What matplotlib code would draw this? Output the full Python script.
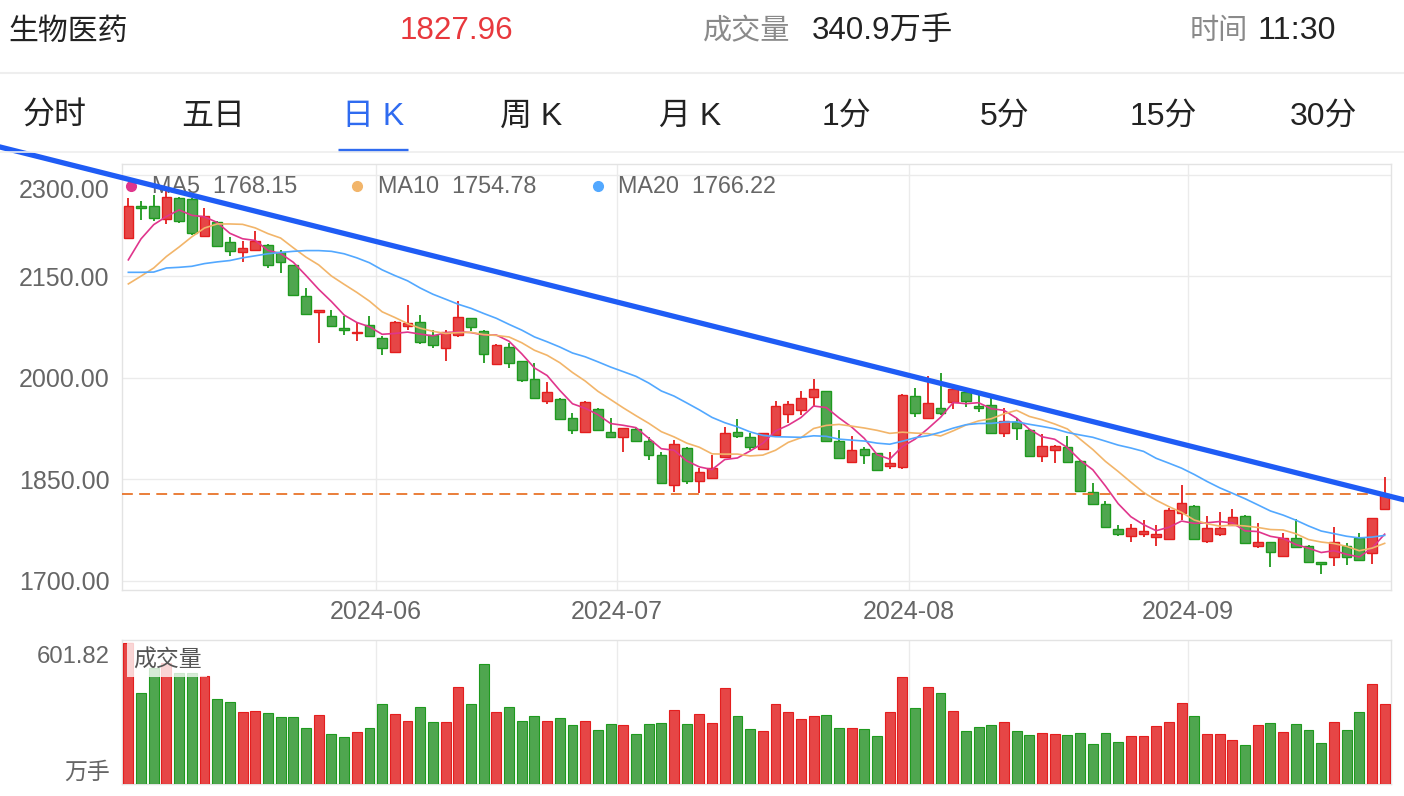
import numpy as np
import pandas as pd
import matplotlib
matplotlib.use('Agg')
import matplotlib.pyplot as plt
from matplotlib.transforms import ScaledTranslation
from matplotlib.lines import Line2D

plt.rcParams['font.family'] = ['Liberation Sans', 'Noto Sans CJK SC', 'DejaVu Sans']

# ---------------- data ----------------
index_name = "生物医药"
last_price_text = "1827.96"
volume_text = "340.9万手"
time_text = "11:30"
tabs = ["分时", "五日", "日 K", "周 K", "月 K", "1分", "5分", "15分", "30分"]
active_tab = "日 K"

holidays = pd.to_datetime(['2024-06-10', '2024-09-16', '2024-09-17'])
dates = pd.bdate_range('2024-05-06', '2024-09-25')
dates = dates[~dates.isin(holidays)]

open_ = [2206.4, 2253, 2254, 2234.5, 2265.5, 2264, 2208.8, 2229.5, 2200, 2185,
         2188, 2196.5, 2185, 2167, 2120, 2096.5, 2091.6, 2073, 2066.2, 2078,
         2058.6, 2038, 2077, 2082, 2062.5, 2044, 2063.6, 2088, 2069.4, 2020.2,
         2046, 2024, 1998.5, 1966, 1968.5, 1940.4, 1919.3, 1954, 1920.6, 1913,
         1924, 1906, 1886, 1842, 1896, 1847, 1851.6, 1883.6, 1920.6, 1911.8,
         1894.8, 1915.7, 1946.8, 1952.6, 1970.9, 1979.8, 1906, 1875, 1894.6, 1888.6,
         1870, 1868, 1972.4, 1941, 1955, 1963.6, 1979, 1958.6, 1960, 1919,
         1935.4, 1923, 1885, 1893.5, 1897.6, 1877.7, 1831, 1814, 1776.4, 1767,
         1769.4, 1764.5, 1762, 1801, 1811, 1759, 1769.4, 1782.7, 1796, 1752,
         1758, 1737.6, 1764, 1752, 1728.6, 1735, 1752, 1763, 1742, 1806.4]
close = [2254, 2250, 2236, 2266.5, 2232, 2214, 2239.4, 2194, 2186.7, 2191.6,
         2201.4, 2166, 2170.6, 2122.6, 2094, 2099.5, 2076, 2071, 2067.7, 2062,
         2044, 2082.3, 2081, 2053, 2048.7, 2067.5, 2089.7, 2074.3, 2035, 2048.7,
         2021.8, 1997, 1970, 1979, 1939, 1923, 1964, 1923, 1913, 1926,
         1906, 1886, 1845, 1902.4, 1847, 1861.5, 1866.5, 1919, 1914, 1898.5,
         1918.4, 1957.6, 1961.5, 1970, 1983.7, 1907.3, 1881.5, 1893.6, 1886, 1864,
         1874, 1975, 1948, 1962.6, 1948, 1983.7, 1966.4, 1955.2, 1918, 1936.4,
         1925.6, 1885, 1899.4, 1899.4, 1875, 1833, 1814, 1779.3, 1769.4, 1778.7,
         1774.3, 1769.4, 1805, 1815, 1761.6, 1778.7, 1778.7, 1795, 1755.6, 1757,
         1743.4, 1763, 1750, 1728.7, 1725, 1757, 1736, 1731, 1793.5, 1827.96]
high = [2265.6, 2260.5, 2270, 2277, 2266.5, 2265.5, 2250.7, 2231, 2208, 2201.4,
        2216, 2197.5, 2189, 2167, 2132.5, 2099.5, 2099.5, 2091.6, 2081, 2091.6,
        2061, 2084, 2107, 2092, 2071, 2071, 2113.8, 2088, 2071, 2049.6,
        2051, 2025, 2021.8, 1993.6, 1970, 1948.6, 1966, 1955, 1941, 1926,
        1926, 1913, 1890, 1908, 1898.5, 1866.5, 1886, 1928, 1939, 1919,
        1919, 1966.4, 1966.4, 1981, 1998, 1980, 1923, 1914, 1898.5, 1889,
        1891, 1976, 1984.7, 2002, 2007, 1985.6, 1980, 1975, 1970, 1955,
        1940, 1924, 1917, 1901, 1914.7, 1878.7, 1844.3, 1817.4, 1782.7, 1784,
        1790, 1782.7, 1807.4, 1842, 1812.3, 1796, 1802.3, 1806, 1797, 1785,
        1758, 1771.5, 1791, 1752.6, 1728.6, 1780, 1755.6, 1770.4, 1793.5, 1854]
low = [2206, 2233, 2232, 2227.5, 2228, 2211, 2208, 2193, 2179, 2170.4,
       2186.6, 2162, 2154.7, 2120, 2093, 2051, 2075, 2063.6, 2054, 2061,
       2033, 2038, 2071, 2050, 2044, 2024, 2060, 2068.4, 2021.8, 2019.7,
       2014, 1994, 1969, 1961.5, 1938, 1917, 1919, 1922, 1911, 1890,
       1905, 1879, 1844, 1831, 1843, 1829.6, 1850, 1882, 1911, 1893.5,
       1894, 1914, 1933, 1945, 1957.6, 1907, 1880.5, 1874, 1873, 1863,
       1865, 1865, 1942, 1940, 1945, 1953.6, 1956.7, 1950, 1917, 1911.8,
       1908, 1884, 1876, 1874, 1874, 1831, 1813, 1778, 1766.5, 1758,
       1765.5, 1752, 1762, 1790, 1760.5, 1756.8, 1767, 1781, 1754.6, 1748,
       1720, 1735, 1748, 1728, 1710, 1722, 1723.6, 1730, 1725, 1806]
volume = [601.82, 388.9, 494, 515.3, 472.7, 472.7, 460, 362, 348, 308,
          311, 301, 286.6, 286.6, 237.2, 293.9, 211.7, 198.9, 222.7, 239.8,
          340.7, 296.9, 268.3, 326.7, 264, 262.8, 414.4, 340.7, 509.8, 305.4,
          329.2, 268.3, 288.3, 268.3, 281.1, 250, 268.3, 228.7, 255.5, 250,
          213, 254.3, 258.5, 313.9, 254.3, 296.9, 259.8, 407.6, 290.9, 234.2,
          224.4, 342, 306.6, 276.8, 290.9, 295.1, 237.2, 238.5, 234.2, 204.4,
          308, 457, 322.4, 411.8, 387.6, 311, 227, 242.8, 251.3, 264,
          227, 207.4, 217.2, 211.7, 207.4, 215.9, 169.1, 215.9, 178.9, 204.4,
          204.4, 247, 264, 345, 289.6, 213, 213, 187.4, 164.8, 251.3,
          259.8, 221.5, 255.5, 230, 174.6, 264, 230, 308, 424.6, 340.9]

# moving-average values before a full window is available
ma5_head = [2174, 2205, 2226, 2238]
ma10_head = [2138.5, 2150, 2162, 2179, 2193, 2208, 2221, 2227, 2227]
ma20_head = [2155.6, 2155.6, 2156, 2162, 2163, 2164.5, 2168.5, 2171, 2173, 2177,
             2180, 2183, 2185, 2186.6, 2187.7, 2187.7, 2186.6, 2183, 2177]
ma_names = ["MA5", "MA10", "MA20"]
ma_last = [1768.15, 1754.78, 1766.22]

# trend line anchors (candle index, price)
trend_idx = [0, 99]
trend_price = [2293.0, 1827.0]

y_ticks = [1700, 1850, 2000, 2150, 2300]

# ---------------- derived ----------------
o = np.array(open_); c = np.array(close); h = np.array(high); l = np.array(low)
v = np.array(volume)
x = np.arange(len(c))
up = c >= o

def moving(n, head):
    s = pd.Series(c).rolling(n).mean().to_numpy()
    s[:n - 1] = head
    return s

ma5 = moving(5, ma5_head)
ma10 = moving(10, ma10_head)
ma20 = moving(20, ma20_head)

months = dates.to_period('M')
month_start = [i for i in range(1, len(dates)) if months[i] != months[i - 1]]
month_labels = [dates[i].strftime('%Y-%m') for i in month_start]

# ---------------- styling ----------------
W, H = 1404, 796
RED_F, RED_E = '#E64646', '#E41E1E'
GRN_F, GRN_E = '#4FA64F', '#1E9A1E'
C_MA = ['#E0358C', '#F2B56A', '#52A8FF']
GRID = '#EBEBEB'
TXT = '#666666'

def fx(px):
    return px / W

def fy(py):
    return 1 - py / H

fig = plt.figure(figsize=(W / 100, H / 100), dpi=100)
fig.patch.set_facecolor('white')

# header
hfs = 21.5
nfs = 22.6
fig.text(fx(8), fy(31), index_name, fontsize=hfs, color='#222222', va='center', ha='left',
         family=['Noto Sans CJK SC'])
fig.text(fx(456), fy(31), last_price_text, fontsize=nfs, color='#E8383D', va='center', ha='center')
fig.text(fx(703), fy(31), "成交量", fontsize=hfs - 0.5, color='#8A8A8A', va='center', ha='left',
         family=['Noto Sans CJK SC'])
fig.text(fx(812), fy(31), volume_text, fontsize=nfs, color='#222222', va='center', ha='left')
fig.text(fx(1190), fy(31), "时间", fontsize=hfs - 0.5, color='#8A8A8A', va='center', ha='left',
         family=['Noto Sans CJK SC'])
fig.text(fx(1258), fy(31), time_text, fontsize=nfs + 0.6, color='#222222', va='center', ha='left')
fig.add_artist(Line2D([0, 1], [fy(73), fy(73)], color='#EEEEEE', lw=1.5))

# tabs
tab_centers = [55, 213, 373, 531, 690, 847, 1005, 1163, 1324]
for t, cx in zip(tabs, tab_centers):
    col = '#2F6BF0' if t == active_tab else '#222222'
    fig.text(fx(cx), fy(117), t, fontsize=23, color=col, va='center', ha='center',
             family=['Liberation Sans', 'Noto Sans CJK SC'])
    if t == active_tab:
        fig.add_artist(Line2D([fx(cx - 35), fx(cx + 35)], [fy(149.5), fy(149.5)],
                              color='#2F6BF0', lw=2.4, solid_capstyle='butt'))
fig.add_artist(Line2D([0, 1], [fy(152), fy(152)], color='#EEEEEE', lw=1.2))

# ---------------- price axes ----------------
ax = fig.add_axes([fx(122), fy(590), fx(1269), 426 / H])
ax.set_xlim(-0.5, len(c) - 0.5)
ax.set_ylim(1686.7, 2315.5)
for s in ax.spines.values():
    s.set_color('#E3E3E3'); s.set_linewidth(1)
ax.set_yticks(y_ticks)
ax.set_yticklabels([f"{t:.2f}" for t in y_ticks])
ax.set_xticks([m - 0.5 for m in month_start])
ax.set_xticklabels(month_labels)
ax.tick_params(length=0, colors=TXT, labelsize=18, pad=9)
ax.tick_params(axis='x', pad=7)
ax.grid(True, color=GRID, lw=1)
ax.set_axisbelow(True)
lab = ax.get_yticklabels()
top_lab = lab[-1]
top_lab.set_transform(top_lab.get_transform() + ScaledTranslation(0, -0.135, fig.dpi_scale_trans))

fill = np.where(up, RED_F, GRN_F)
edge = np.where(up, RED_E, GRN_E)
ax.vlines(x, l, h, colors=edge, lw=1.3, zorder=2)
ax.bar(x, np.maximum(np.abs(c - o), 0.01), bottom=np.minimum(o, c), width=0.76,
       color=fill, edgecolor=edge, linewidth=1.0, zorder=3)

for ma, col in zip([ma5, ma10, ma20], C_MA):
    ax.plot(x, ma, color=col, lw=1.2, zorder=4)

ax.axhline(c[-1], color='#E8742A', lw=1.3, ls=(0, (6, 3.5)), zorder=4)

# trend line extended to figure edges
slope = (trend_price[1] - trend_price[0]) / (trend_idx[1] - trend_idx[0])
tx = np.array([-10.2, 100.6])
ty = trend_price[0] + slope * (tx - trend_idx[0])
ax.plot(tx, ty, color='#1F5CF5', lw=3.8, zorder=6, clip_on=False, solid_capstyle='butt')

# MA legend
leg_dot = [0.0071, 0.185, 0.375]
leg_txt = [0.0236, 0.2017, 0.391]
for name, val, col, dx, tx_ in zip(ma_names, ma_last, C_MA, leg_dot, leg_txt):
    ax.plot([dx], [0.948], marker='o', ms=7, color=col, transform=ax.transAxes,
            clip_on=False, zorder=5)
    ax.text(tx_, 0.948, f"{name}  {val:.2f}", transform=ax.transAxes, fontsize=16.8,
            color=TXT, va='center', ha='left', zorder=5)

# ---------------- volume axes ----------------
axv = fig.add_axes([fx(122), fy(784), fx(1269), 144 / H])
axv.set_xlim(-0.5, len(c) - 0.5)
axv.set_ylim(0, v.max() * 144 / 141.3)
for s in axv.spines.values():
    s.set_color('#E3E3E3'); s.set_linewidth(1)
axv.set_yticks([])
axv.set_xticks([m - 0.5 for m in month_start])
axv.set_xticklabels([])
axv.tick_params(length=0)
axv.grid(True, axis='x', color=GRID, lw=1)
axv.set_axisbelow(True)
axv.bar(x, v, width=0.78, color=fill, edgecolor=edge, linewidth=0.8, zorder=3)
axv.text(0.0085, 0.86, "成交量", transform=axv.transAxes, fontsize=16.5, color='#555555',
         va='center', ha='left', family=['Noto Sans CJK SC'], zorder=5,
         bbox=dict(boxstyle='square,pad=0.25', fc='white', ec='none', alpha=0.78))
fig.text(fx(110), fy(657), f"{v.max():.2f}", fontsize=17.2, color=TXT, va='center', ha='right')
fig.text(fx(110), fy(772), "万手", fontsize=16.5, color=TXT, va='center', ha='right',
         family=['Noto Sans CJK SC'])

fig.savefig('out.png', dpi=100, facecolor='white')
